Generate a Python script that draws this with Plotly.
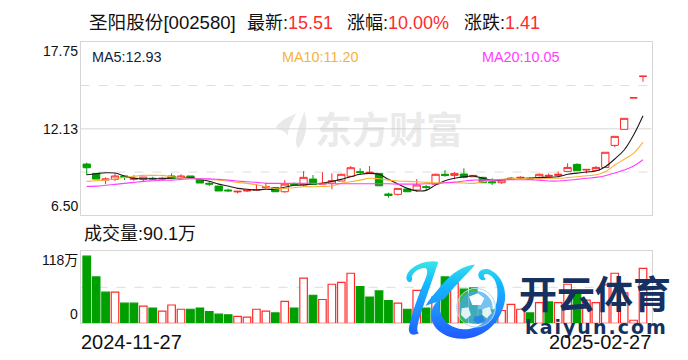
import base64
import pandas as pd
import plotly.graph_objects as go

holidays = ["2025-01-01", "2025-01-28", "2025-01-29", "2025-01-30", "2025-01-31", "2025-02-03", "2025-02-04"]
dates = [d.strftime("%Y-%m-%d") for d in pd.bdate_range("2024-11-27", "2025-02-27") if d.strftime("%Y-%m-%d") not in holidays]

opens = [9.77,9.16,8.73,8.77,8.99,8.77,8.77,8.84,8.80,8.99,8.87,8.99,8.77,8.51,8.33,8.07,7.95,8.01,8.07,8.22,
         8.24,7.96,8.48,8.42,8.79,8.46,8.51,8.66,8.97,9.27,9.16,9.16,7.81,7.79,8.14,8.07,8.29,8.46,9.10,9.03,
         9.12,8.94,8.90,8.61,8.55,8.79,8.84,8.84,8.87,8.97,9.03,9.29,9.75,9.38,9.36,9.55,10.99,12.04,14.10,15.51]
highs = [9.86,9.16,8.90,9.16,8.99,9.05,8.92,8.94,8.94,9.16,9.10,8.99,8.77,8.64,8.33,8.16,7.99,8.04,8.46,8.55,
         8.24,8.72,8.57,9.31,9.05,9.23,9.16,9.14,9.64,9.49,9.64,9.16,7.90,8.18,8.14,8.79,8.40,9.15,9.38,9.25,
         9.49,9.03,8.94,8.84,8.72,8.92,8.97,8.92,9.16,9.16,9.29,9.82,9.82,9.42,9.64,10.54,11.58,12.76,14.10,15.51]
lows = [9.05,8.79,8.46,8.66,8.73,8.68,8.59,8.73,8.73,8.84,8.84,8.84,8.53,8.33,8.01,7.96,7.85,7.94,8.02,8.17,
        7.96,7.90,8.42,8.29,8.44,8.46,8.12,8.66,8.93,9.05,9.12,8.35,7.57,7.71,7.96,7.96,8.07,8.42,8.94,8.77,
        8.84,8.94,8.55,8.40,8.48,8.79,8.84,8.79,8.84,8.90,8.90,9.29,9.33,9.16,9.31,9.55,10.88,12.04,14.10,15.15]
closes = [9.53,8.79,8.79,8.99,8.90,8.84,8.92,8.80,8.84,8.84,8.99,8.84,8.53,8.46,8.01,8.02,7.99,8.04,8.10,8.29,
          7.96,8.46,8.42,8.90,8.44,8.51,8.68,9.10,9.53,9.23,9.23,8.35,7.72,8.18,7.96,8.40,8.25,9.10,9.03,9.16,
          8.90,9.03,8.55,8.55,8.72,8.84,8.90,8.79,9.10,9.03,9.10,9.55,9.33,9.42,9.55,10.54,11.58,12.76,14.10,15.51]

ma5 = [9.07,9.14,9.20,9.18,8.99,8.84,8.81,8.81,8.81,8.86,8.88,8.88,8.77,8.64,8.46,8.33,8.18,8.12,8.07,8.12,
       8.12,8.25,8.38,8.40,8.48,8.51,8.64,8.77,8.94,9.10,9.16,9.10,8.77,8.46,8.18,8.02,8.05,8.40,8.68,8.84,
       8.94,8.99,8.84,8.72,8.74,8.81,8.84,8.84,8.90,8.90,8.94,9.10,9.18,9.25,9.31,9.60,10.10,10.69,11.67,12.93]
ma10 = [8.64,8.68,8.72,8.79,8.90,8.97,9.03,9.03,9.03,8.94,8.88,8.84,8.79,8.77,8.72,8.66,8.57,8.51,8.42,8.29,
        8.16,8.18,8.22,8.29,8.29,8.31,8.33,8.51,8.61,8.72,8.84,8.81,8.72,8.66,8.64,8.61,8.57,8.55,8.55,8.55,
        8.53,8.51,8.61,8.72,8.77,8.81,8.84,8.81,8.81,8.84,8.84,8.88,8.94,9.01,9.07,9.27,9.71,10.08,10.47,11.20]
ma20 = [8.31,8.33,8.38,8.44,8.51,8.57,8.64,8.68,8.71,8.72,8.77,8.81,8.81,8.81,8.77,8.72,8.66,8.61,8.57,8.51,
        8.51,8.51,8.51,8.51,8.51,8.48,8.48,8.48,8.48,8.48,8.48,8.48,8.48,8.46,8.46,8.46,8.48,8.48,8.55,8.59,
        8.66,8.72,8.72,8.72,8.74,8.74,8.74,8.74,8.72,8.66,8.66,8.71,8.77,8.84,8.90,9.01,9.18,9.38,9.64,10.05]

volumes = [110,76,51,51,33,33,28,25,20,30,23,23,25,19,15,14,11.5,10,23,20,
           17,36,25,74,46,39,64,67,82,60,43,53,37,33,23,54,25,43,76,66,
           56,58,22,22,21,31,23,17,34,35,34,64,50,38,34,63,82,50,5,90.1]
volume_dirs = ["d","d","d","u","d","d","u","d","u","u","u","d","d","d","d","d","u","u","u","u",
               "d","u","d","u","d","u","u","u","u","d","d","d","d","u","d","u","d","u","d","u",
               "d","d","d","d","u","u","u","d","u","d","u","u","d","u","u","u","u","u","u","u"]

RED, GREEN = "#ff2a2a", "#009f00"
W, H = 688, 360
FONT = "Liberation Sans, Noto Sans CJK SC, sans-serif"
PL, PR = 80.5 / W, 651.5 / W


def svg_uri(svg):
    return "data:image/svg+xml;base64," + base64.b64encode(svg.encode()).decode()


logo_svg = """<svg xmlns="http://www.w3.org/2000/svg" viewBox="0 0 360 300" width="360" height="300">
<defs><linearGradient id="g" gradientUnits="userSpaceOnUse" x1="0" y1="30" x2="0" y2="270">
<stop offset="0" stop-color="#3ee8e6"/><stop offset="0.3" stop-color="#12b8ff"/><stop offset="0.65" stop-color="#1f8cff"/><stop offset="1" stop-color="#1f56ff"/></linearGradient></defs>
<path fill="url(#g)" d="M130,36 C105,30 70,38 48,58 C32,72 30,92 42,96 C50,98 54,88 50,80 C56,66 72,54 88,54 C100,54 98,72 90,90 C72,130 50,190 42,232 C38,255 55,258 72,250 C62,245 68,220 78,190 C92,145 112,90 130,36 Z"/>
<path fill="url(#g)" d="M240,44 C205,45 170,70 140,105 C120,130 100,150 92,168 C110,160 135,155 150,145 C175,110 215,75 240,44 Z"/>
<path fill="url(#g)" d="M132,150 C110,165 104,195 112,215 C122,245 160,268 210,266 C270,262 320,215 330,150 C334,110 315,70 280,58 C262,54 248,64 250,78 C252,90 268,96 272,86 C266,80 262,72 275,72 C300,76 312,110 306,150 C298,200 255,240 205,238 C170,235 130,215 132,150 Z"/>
<circle cx="243" cy="173" r="58" fill="#ffffff" fill-opacity="0.25" stroke="#a8dcfa" stroke-width="3"/>
<circle cx="243" cy="173" r="50" fill="#3ea6ee" fill-opacity="0.7"/>
<polygon fill="#ffffff" points="222,140 248,130 268,145 258,165 232,165"/>
<polygon fill="#ffffff" fill-opacity="0.85" points="200,175 220,172 228,195 212,208 198,195"/>
<polygon fill="#ffffff" fill-opacity="0.85" points="262,178 284,170 290,190 275,205 262,195"/>
<polygon fill="#1f7cf0" fill-opacity="0.8" points="238,200 262,195 270,212 248,222 236,212"/>
</svg>"""

mark_svg = """<svg xmlns="http://www.w3.org/2000/svg" viewBox="0 0 135 150" width="135" height="150">
<path fill="#e9e9e9" d="M118,35 C130,70 125,110 100,145 C85,130 95,95 118,35 Z"/>
<path fill="#e9e9e9" d="M95,40 C60,55 35,70 32,85 C45,90 60,92 68,108 C70,80 85,55 95,40 Z"/>
</svg>"""


def label(text, x, y, size=14, color="#111111", xanchor="left", family=FONT, bold=False):
    content = f"<b>{text}</b>" if bold else text
    return dict(text=content, x=x / W, y=1 - y / H, xref="paper", yref="paper", xanchor=xanchor, yanchor="middle",
                showarrow=False, borderpad=0, font=dict(size=size, color=color, family=family))


def axis_label(text, yref, y, yanchor):
    return dict(text=text, x=PL - 2 / W, xref="paper", y=y, yref=yref, xanchor="right", yanchor=yanchor,
                showarrow=False, borderpad=0, font=dict(size=14, color="#111111", family=FONT))


fig = go.Figure()
fig.add_trace(go.Candlestick(
    x=dates, open=opens, high=highs, low=lows, close=closes, xaxis="x", yaxis="y", whiskerwidth=0,
    increasing=dict(line=dict(color=RED, width=1), fillcolor="#ffffff"),
    decreasing=dict(line=dict(color=GREEN, width=1), fillcolor=GREEN),
    hoverinfo="skip"))
for values, color in ((ma5, "#1c1c1c"), (ma10, "#f7b23b"), (ma20, "#ff3cff")):
    fig.add_trace(go.Scatter(x=dates, y=values, mode="lines", xaxis="x", yaxis="y", hoverinfo="skip",
                             line=dict(color=color, width=1.1, shape="spline", smoothing=1)))
fig.add_trace(go.Bar(
    x=dates, y=volumes, xaxis="x2", yaxis="y2", width=0.8, hoverinfo="skip",
    marker=dict(color=["#ffffff" if d == "u" else GREEN for d in volume_dirs],
                line=dict(color=[RED if d == "u" else GREEN for d in volume_dirs], width=1.2))))

annotations = [
    label("圣阳股份[002580]", 88, 22.5, 18.6),
    label(f"最新:<span style='color:{RED}'>15.51</span>", 246, 22.5, 18),
    label(f"涨幅:<span style='color:{RED}'>10.00%</span>", 346, 22.5, 18),
    label(f"涨跌:<span style='color:{RED}'>1.41</span>", 463, 22.5, 18),
    label("MA5:12.93", 90.5, 56.5, 14.4, "#14233c"),
    label("MA10:11.20", 280.5, 56.5, 14.4, "#f7b23b"),
    label("MA20:10.05", 480.5, 56.5, 14.4, "#ff3cff"),
    label("成交量:90.1万", 83, 233.5, 18),
    label("东方财富", 389, 128, 37, "rgba(190,190,190,0.32)", "center", "Noto Sans CJK SC", True),
    label("开云体育", 518, 291, 38, "#16305f", "left", "Noto Sans CJK SC", True),
    label("kaiyun.com", 596, 327, 19, "#16305f", "center", "DejaVu Sans", True),
    label("2024-11-27", 80, 342, 20),
    label("2025-02-27", 652, 342, 20, xanchor="right"),
    axis_label("17.75", "y domain", 1, "top"),
    axis_label("12.13", "y domain", 0.5, "middle"),
    axis_label("6.50", "y domain", 0, "bottom"),
    axis_label("118万", "y2 domain", 1, "top"),
    axis_label("0", "y2 domain", 0, "bottom"),
]

grid = dict(color="#dddddd", width=1, dash="dash")
shapes = [
    dict(type="line", xref="x domain", yref="y domain", x0=0, x1=1, y0=0.25, y1=0.25, line=grid, layer="below"),
    dict(type="line", xref="x domain", yref="y domain", x0=0, x1=1, y0=0.75, y1=0.75, line=grid, layer="below"),
    dict(type="line", xref="x domain", yref="y domain", x0=0, x1=1, y0=0.5, y1=0.5,
         line=dict(color="#d8d8d8", width=1), layer="below"),
    dict(type="line", xref="x2 domain", yref="y2 domain", x0=0, x1=1, y0=0.5, y1=0.5, line=grid, layer="below"),
]
images = [
    dict(source=svg_uri(logo_svg), xref="paper", yref="paper", x=395 / W, y=1 - 250 / H, sizex=120 / W, sizey=100 / H,
         xanchor="left", yanchor="top", sizing="stretch", layer="above"),
    dict(source=svg_uri(mark_svg), xref="paper", yref="paper", x=265 / W, y=1 - 100 / H, sizex=45 / W, sizey=50 / H,
         xanchor="left", yanchor="top", sizing="stretch", layer="below"),
]

x_common = dict(type="category", range=[-0.66, 59.9], showticklabels=False, ticks="", showgrid=False,
                showline=True, mirror=True, linecolor="#d6d6d6", linewidth=1, zeroline=False, domain=[PL, PR],
                rangeslider=dict(visible=False), fixedrange=True)
y_common = dict(showticklabels=False, ticks="", showgrid=False, showline=True, mirror=True, linecolor="#d6d6d6",
                linewidth=1, zeroline=False, fixedrange=True)

fig.update_layout(
    width=W, height=H, margin=dict(l=0, r=0, t=0, b=0), paper_bgcolor="#ffffff", plot_bgcolor="rgba(0,0,0,0)",
    showlegend=False, hovermode=False, boxgap=0.23, boxgroupgap=0, bargap=0.2,
    xaxis=x_common,
    xaxis2=dict(x_common, anchor="y2"),
    yaxis=dict(y_common, domain=[1 - 215.3 / H, 1 - 42.3 / H], range=[6.42, 17.73], anchor="x"),
    yaxis2=dict(y_common, domain=[1 - 323.3 / H, 1 - 251.3 / H], range=[0, 118], anchor="x2"),
    annotations=annotations, shapes=shapes, images=images,
)

fig.write_html(
    "out.html",
    config={"displayModeBar": False},
    post_script="document.body.style.margin='0';document.body.style.overflow='hidden';"
                "document.querySelectorAll('.annotation-text').forEach(function(t){"
                "if(t.textContent==='kaiyun.com'){t.style.letterSpacing='2px';}});",
)
